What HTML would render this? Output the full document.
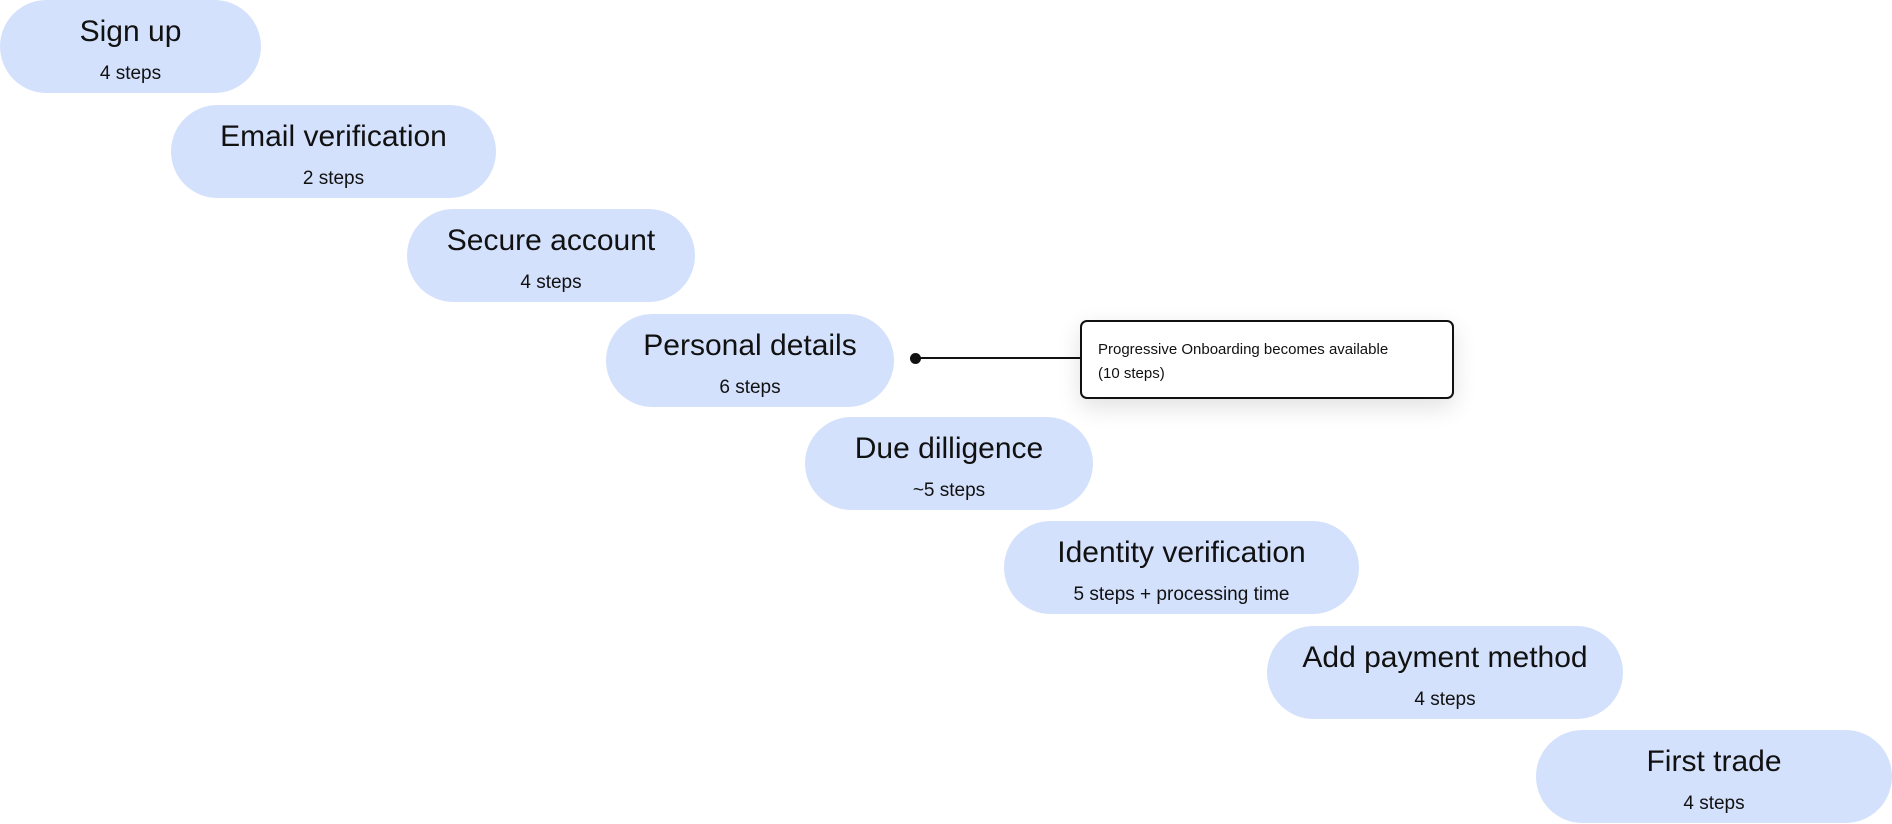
<!DOCTYPE html>
<html><head><meta charset="utf-8"><style>
body{margin:0;width:1892px;height:824px;background:#fff;position:relative;overflow:hidden;font-family:"Liberation Sans",sans-serif;color:#111;}
.p{position:absolute;height:93px;border-radius:47px;background:#d4e1fc;text-align:center;}
.t{position:absolute;left:0;right:0;top:14px;font-size:30px;letter-spacing:0px;line-height:36px;}
.s{position:absolute;left:0;right:0;top:62px;font-size:19px;letter-spacing:0px;line-height:24px;}
.box{position:absolute;left:1080px;top:320px;width:370px;height:75px;border:2px solid #111;border-radius:7px;background:#fff;box-shadow:0 8px 24px rgba(0,0,0,0.12);font-size:15px;line-height:24px;}
</style></head><body>
<div class="p" style="left:0;top:0;width:261px"><div class="t">Sign up</div><div class="s">4 steps</div></div>
<div class="p" style="left:171px;top:105px;width:325px"><div class="t">Email verification</div><div class="s">2 steps</div></div>
<div class="p" style="left:407px;top:209px;width:288px"><div class="t">Secure account</div><div class="s">4 steps</div></div>
<div class="p" style="left:606px;top:314px;width:288px"><div class="t">Personal details</div><div class="s">6 steps</div></div>
<div class="p" style="left:805px;top:417px;width:288px"><div class="t">Due dilligence</div><div class="s">~5 steps</div></div>
<div class="p" style="left:1004px;top:521px;width:355px"><div class="t">Identity verification</div><div class="s">5 steps + processing time</div></div>
<div class="p" style="left:1267px;top:626px;width:356px"><div class="t">Add payment method</div><div class="s">4 steps</div></div>
<div class="p" style="left:1536px;top:730px;width:356px"><div class="t">First trade</div><div class="s">4 steps</div></div>
<div style="position:absolute;left:910px;top:353px;width:11px;height:11px;border-radius:50%;background:#111"></div>
<div style="position:absolute;left:915px;top:357px;width:166px;height:2px;background:#111"></div>
<div class="box"><div style="position:absolute;left:16px;top:16px">Progressive Onboarding becomes available<br>(10 steps)</div></div>
</body></html>
